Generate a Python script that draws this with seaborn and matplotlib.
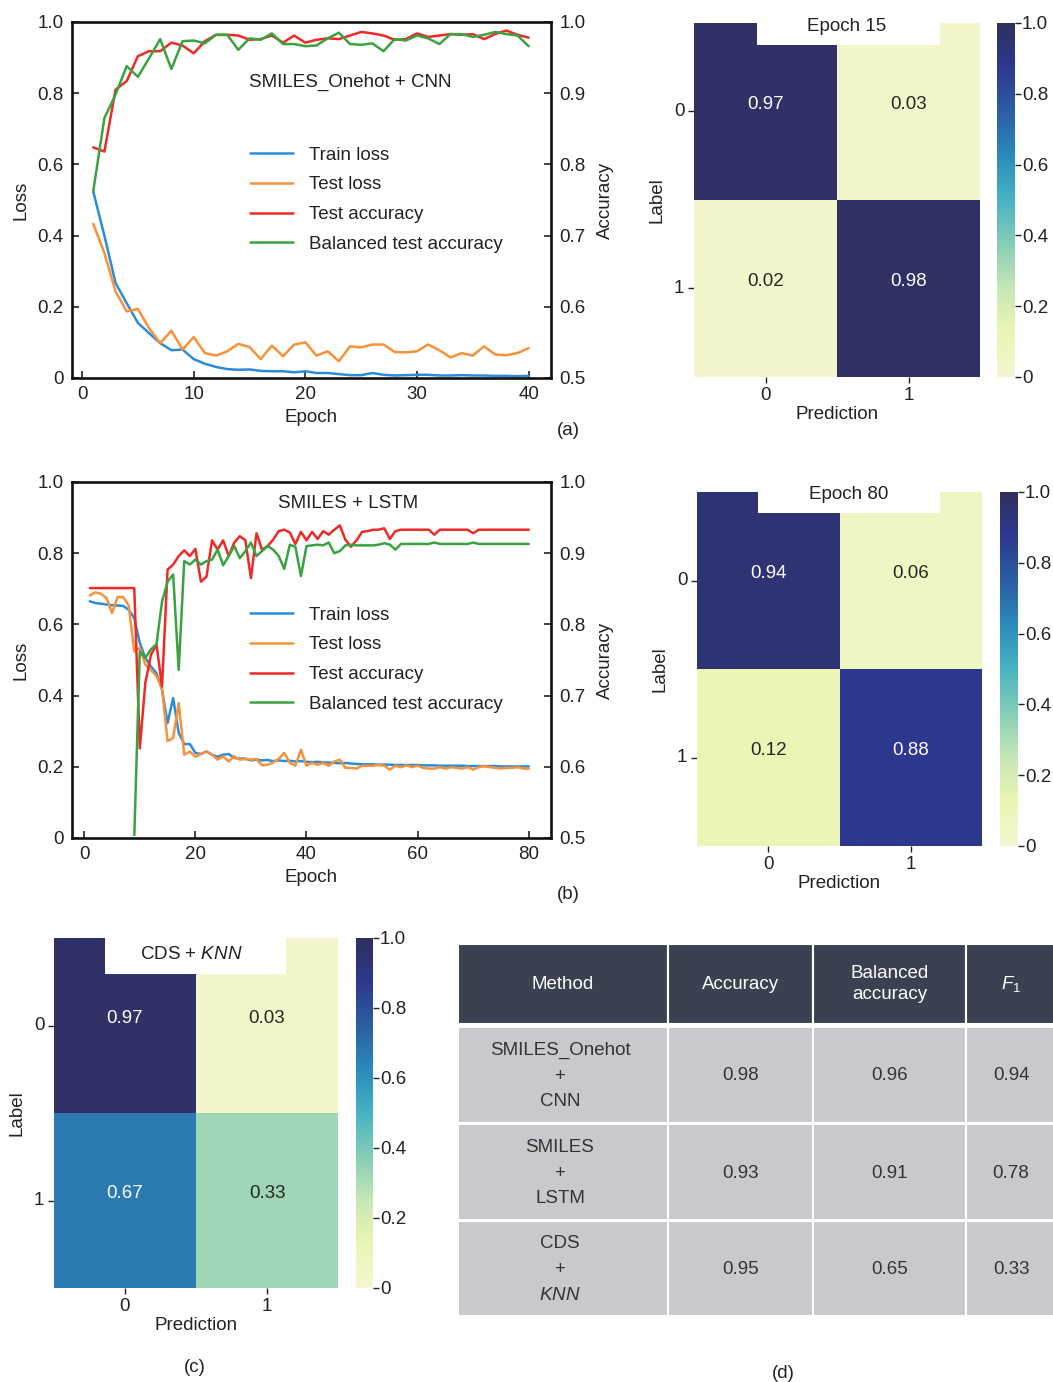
import matplotlib
matplotlib.use("Agg")
import matplotlib.pyplot as plt
import seaborn as sns
from matplotlib.colors import LinearSegmentedColormap
from matplotlib.patches import Rectangle
from matplotlib.ticker import FuncFormatter

# ---- data ----
cnn_epochs = list(range(1, 41))
cnn_train_loss = [0.524, 0.400, 0.267, 0.210, 0.155, 0.126, 0.098, 0.078, 0.080, 0.053,
                  0.040, 0.031, 0.025, 0.023, 0.024, 0.020, 0.019, 0.019, 0.016, 0.019,
                  0.014, 0.014, 0.011, 0.008, 0.008, 0.014, 0.009, 0.007, 0.008, 0.009,
                  0.009, 0.007, 0.007, 0.008, 0.007, 0.007, 0.006, 0.006, 0.005, 0.006]
cnn_test_loss = [0.433, 0.351, 0.243, 0.187, 0.194, 0.140, 0.098, 0.133, 0.080, 0.115,
                 0.070, 0.063, 0.075, 0.096, 0.087, 0.053, 0.091, 0.061, 0.094, 0.100,
                 0.063, 0.075, 0.047, 0.089, 0.086, 0.094, 0.094, 0.073, 0.072, 0.075,
                 0.094, 0.078, 0.058, 0.070, 0.063, 0.089, 0.066, 0.064, 0.070, 0.084]
cnn_test_acc = [0.824, 0.818, 0.905, 0.917, 0.952, 0.959, 0.959, 0.971, 0.967, 0.956,
                0.973, 0.982, 0.982, 0.981, 0.975, 0.976, 0.981, 0.971, 0.981, 0.971,
                0.975, 0.977, 0.976, 0.981, 0.986, 0.984, 0.981, 0.975, 0.976, 0.984,
                0.979, 0.981, 0.983, 0.982, 0.983, 0.976, 0.983, 0.988, 0.982, 0.978]
cnn_bal_acc = [0.762, 0.865, 0.898, 0.938, 0.923, 0.949, 0.976, 0.934, 0.973, 0.974,
               0.970, 0.982, 0.982, 0.961, 0.977, 0.975, 0.984, 0.969, 0.969, 0.966,
               0.967, 0.977, 0.985, 0.969, 0.968, 0.970, 0.959, 0.976, 0.974, 0.981,
               0.977, 0.969, 0.983, 0.983, 0.979, 0.982, 0.986, 0.983, 0.981, 0.966]

lstm_epochs = list(range(1, 81))
lstm_train_loss = [0.665, 0.660, 0.658, 0.656, 0.654, 0.653, 0.652, 0.641, 0.618, 0.548,
                   0.506, 0.482, 0.463, 0.417, 0.323, 0.393, 0.295, 0.264, 0.264, 0.239,
                   0.236, 0.243, 0.234, 0.228, 0.234, 0.236, 0.225, 0.223, 0.223, 0.218,
                   0.220, 0.218, 0.219, 0.216, 0.218, 0.216, 0.217, 0.215, 0.216, 0.214,
                   0.213, 0.214, 0.212, 0.212, 0.211, 0.210, 0.211, 0.209, 0.208, 0.207,
                   0.207, 0.207, 0.206, 0.206, 0.206, 0.205, 0.205, 0.205, 0.205, 0.205,
                   0.204, 0.204, 0.204, 0.203, 0.203, 0.203, 0.203, 0.203, 0.202, 0.202,
                   0.202, 0.202, 0.202, 0.202, 0.201, 0.201, 0.201, 0.201, 0.201, 0.201]
lstm_test_loss = [0.681, 0.690, 0.686, 0.674, 0.632, 0.677, 0.677, 0.653, 0.524, 0.534,
                  0.487, 0.473, 0.454, 0.421, 0.272, 0.281, 0.379, 0.234, 0.243, 0.228,
                  0.236, 0.243, 0.234, 0.220, 0.229, 0.215, 0.229, 0.220, 0.222, 0.220,
                  0.222, 0.204, 0.206, 0.212, 0.222, 0.239, 0.211, 0.203, 0.248, 0.203,
                  0.211, 0.206, 0.211, 0.203, 0.215, 0.220, 0.197, 0.197, 0.195, 0.203,
                  0.203, 0.203, 0.206, 0.203, 0.192, 0.203, 0.199, 0.204, 0.199, 0.203,
                  0.197, 0.195, 0.195, 0.199, 0.195, 0.199, 0.197, 0.195, 0.199, 0.192,
                  0.199, 0.202, 0.199, 0.197, 0.195, 0.197, 0.197, 0.199, 0.195, 0.195]
lstm_test_acc = [0.851, 0.851, 0.851, 0.851, 0.851, 0.851, 0.851, 0.851, 0.851, 0.626,
                 0.718, 0.757, 0.772, 0.713, 0.877, 0.884, 0.896, 0.904, 0.896, 0.906,
                 0.860, 0.867, 0.918, 0.905, 0.918, 0.896, 0.915, 0.924, 0.918, 0.865,
                 0.928, 0.905, 0.910, 0.919, 0.931, 0.933, 0.929, 0.913, 0.930, 0.918,
                 0.930, 0.920, 0.931, 0.926, 0.933, 0.939, 0.919, 0.909, 0.918, 0.930,
                 0.931, 0.933, 0.933, 0.935, 0.920, 0.931, 0.933, 0.933, 0.933, 0.933,
                 0.933, 0.933, 0.926, 0.933, 0.933, 0.933, 0.933, 0.933, 0.933, 0.928,
                 0.933, 0.933, 0.933, 0.933, 0.933, 0.933, 0.933, 0.933, 0.933, 0.933]
lstm_bal_acc = [0.500, 0.500, 0.500, 0.500, 0.500, 0.500, 0.500, 0.500, 0.500, 0.762,
                0.753, 0.765, 0.772, 0.832, 0.860, 0.870, 0.736, 0.889, 0.884, 0.891,
                0.884, 0.889, 0.891, 0.905, 0.883, 0.896, 0.910, 0.893, 0.903, 0.915,
                0.896, 0.903, 0.910, 0.905, 0.896, 0.878, 0.912, 0.909, 0.868, 0.910,
                0.911, 0.912, 0.911, 0.915, 0.900, 0.903, 0.911, 0.912, 0.911, 0.911,
                0.911, 0.911, 0.912, 0.914, 0.912, 0.905, 0.913, 0.913, 0.913, 0.913,
                0.913, 0.913, 0.915, 0.913, 0.913, 0.913, 0.913, 0.913, 0.913, 0.915,
                0.913, 0.913, 0.913, 0.913, 0.913, 0.913, 0.913, 0.913, 0.913, 0.913]

cm_ticks = ["0", "1"]
cm_epoch15 = [[0.97, 0.03], [0.02, 0.98]]
cm_epoch80 = [[0.94, 0.06], [0.12, 0.88]]
cm_knn = [[0.97, 0.03], [0.67, 0.33]]

table_headers = ["Method", "Accuracy", "Balanced\naccuracy", "$F_1$"]
table_methods = ["SMILES_Onehot\n+\nCNN", "SMILES\n+\nLSTM", "CDS\n+\n$\\mathit{KNN}$"]
table_acc = [0.98, 0.93, 0.95]
table_bal_acc = [0.96, 0.91, 0.65]
table_f1 = [0.94, 0.78, 0.33]

# ---- style ----
sns.set_style("ticks")
plt.rcParams["font.family"] = ["Liberation Sans", "DejaVu Sans"]
plt.rcParams["mathtext.fontset"] = "custom"
plt.rcParams["mathtext.rm"] = "Liberation Sans"
plt.rcParams["mathtext.it"] = "Liberation Sans:italic"
plt.rcParams["text.color"] = "#222222"
plt.rcParams["axes.labelcolor"] = "#222222"
plt.rcParams["xtick.color"] = "#222222"
plt.rcParams["ytick.color"] = "#222222"

FS = 13.5
W, H = 1053, 1382
LW = 1.8
BLUE, ORANGE, RED, GREEN = "#2b8cdb", "#f7913a", "#ed2a25", "#3aa241"
cmap = LinearSegmentedColormap.from_list(
    "ylgnbu_soft", ["#f5f6d2", "#ebf5b3", "#c7e7b6", "#86cdb6", "#47b3c2",
                    "#2b8abb", "#2b5ea3", "#2d3890", "#2f2f5c"])

fig = plt.figure(figsize=(W / 100, H / 100), dpi=100)


def px_box(left, top, right, bottom):
    return [left / W, 1 - bottom / H, (right - left) / W, (bottom - top) / H]


def loss_fmt(v, pos):
    return "0" if abs(v) < 1e-9 else f"{v:.1f}"


def plot_curves(rect, epochs, train_loss, test_loss, test_acc, bal_acc, title, title_xy, xlim, xticks):
    ax = fig.add_axes(rect)
    ax2 = ax.twinx()
    sns.lineplot(x=epochs, y=train_loss, ax=ax, color=BLUE, lw=LW, label="Train loss", legend=False)
    sns.lineplot(x=epochs, y=test_loss, ax=ax, color=ORANGE, lw=LW, label="Test loss", legend=False)
    sns.lineplot(x=epochs, y=test_acc, ax=ax2, color=RED, lw=LW, label="Test accuracy", legend=False)
    sns.lineplot(x=epochs, y=bal_acc, ax=ax2, color=GREEN, lw=LW, label="Balanced test accuracy", legend=False)
    # clip accuracy curves just above the bottom frame so a run resting on 0.5 stays hidden
    for ln in ax2.get_lines():
        ln.set_clip_path(Rectangle((0, 0.007), 1, 0.993, transform=ax2.transAxes))
    ax.set_xlim(*xlim)
    ax.set_ylim(0, 1)
    ax2.set_ylim(0.5, 1)
    ax.set_xticks(xticks)
    ax.set_yticks([0, 0.2, 0.4, 0.6, 0.8, 1.0])
    ax2.set_yticks([0.5, 0.6, 0.7, 0.8, 0.9, 1.0])
    ax.yaxis.set_major_formatter(FuncFormatter(loss_fmt))
    ax2.yaxis.set_major_formatter(FuncFormatter(lambda v, p: f"{v:.1f}"))
    for a in (ax, ax2):
        a.tick_params(direction="in", length=5, width=1.2, labelsize=FS, pad=6)
    for sp in ax.spines.values():
        sp.set_visible(False)
    for sp in ax2.spines.values():
        sp.set_linewidth(1.9)
        sp.set_color("#111111")
    ax.set_xlabel("Epoch", fontsize=FS, labelpad=4)
    ax.set_ylabel("Loss", fontsize=FS, labelpad=6)
    ax2.set_ylabel("Accuracy", fontsize=FS, labelpad=8)
    ax.text(title_xy[0], title_xy[1], title, transform=ax.transAxes, ha="center", va="center", fontsize=FS)
    h1, l1 = ax.get_legend_handles_labels()
    h2, l2 = ax2.get_legend_handles_labels()
    ax2.legend(h1 + h2, l1 + l2, loc="upper left", bbox_to_anchor=(0.372, 0.65), frameon=False,
               fontsize=FS, handlelength=2.3, handletextpad=0.85, labelspacing=0.67,
               borderpad=0, borderaxespad=0)
    return ax


def plot_cm(rect, cbar_rect, matrix, title, box_x, box_h, title_xy):
    ax = fig.add_axes(rect)
    cax = fig.add_axes(cbar_rect)
    sns.heatmap(matrix, ax=ax, cbar_ax=cax, cmap=cmap, vmin=0, vmax=1, annot=True, fmt=".2f",
                annot_kws={"size": FS}, xticklabels=cm_ticks, yticklabels=cm_ticks)
    for t in ax.texts:
        x, y = t.get_position()
        t.set_position((x, y - 0.04))
    ax.tick_params(length=4, width=1, labelsize=FS, pad=3)
    ax.set_yticklabels(cm_ticks, rotation=0)
    ax.set_xlabel("Prediction", fontsize=FS, labelpad=2)
    ax.set_ylabel("Label", fontsize=FS, labelpad=6)
    cbar = ax.collections[0].colorbar
    cbar.outline.set_visible(False)
    cbar.set_ticks([0, 0.2, 0.4, 0.6, 0.8, 1.0])
    cbar.ax.yaxis.set_major_formatter(FuncFormatter(loss_fmt))
    cax.tick_params(length=4, width=1, labelsize=FS, pad=1)
    ax.add_patch(Rectangle((box_x[0], 1 - box_h), box_x[1] - box_x[0], box_h, transform=ax.transAxes,
                           facecolor="white", edgecolor="none", zorder=3.5, clip_on=False))
    ax.text(title_xy[0], title_xy[1], title, transform=ax.transAxes, ha="center", va="center",
            fontsize=FS, zorder=4)
    return ax


# (a) and (b) training curves
plot_curves(px_box(72, 22, 551, 378), cnn_epochs, cnn_train_loss, cnn_test_loss, cnn_test_acc, cnn_bal_acc,
            "SMILES_Onehot + CNN", (0.58, 0.83), (-0.9, 42), [0, 10, 20, 30, 40])
plot_curves(px_box(72, 482, 551, 838), lstm_epochs, lstm_train_loss, lstm_test_loss, lstm_test_acc, lstm_bal_acc,
            "SMILES + LSTM", (0.576, 0.94), (-2.2, 84), [0, 20, 40, 60, 80])

# confusion matrices
plot_cm(px_box(694, 23, 980, 377), px_box(997, 23, 1015, 377), cm_epoch15, "Epoch 15",
        (0.221, 0.86), 0.061, (0.534, 0.99))
plot_cm(px_box(697, 492, 982, 846), px_box(1000, 492, 1018, 846), cm_epoch80, "Epoch 80",
        (0.213, 0.853), 0.058, (0.531, 0.994))
plot_cm(px_box(54, 938, 338, 1288), px_box(356, 938, 373, 1288), cm_knn, "CDS + $\\mathit{KNN}$",
        (0.179, 0.818), 0.104, (0.485, 0.952))

# (d) table and panel labels, drawn on a pixel-space overlay
ov = fig.add_axes([0, 0, 1, 1], zorder=-1)
ov.set_xlim(0, W)
ov.set_ylim(H, 0)
ov.axis("off")
col_edges = [458, 668, 813, 966, 1056]
header_rows = (944, 1024)
body_rows = [(1027, 1123), (1124, 1220), (1221, 1316)]
for j in range(4):
    x0, x1 = col_edges[j], col_edges[j + 1]
    ov.add_patch(Rectangle((x0, header_rows[0]), x1 - x0, header_rows[1] - header_rows[0],
                           facecolor="#3a4150", edgecolor="white", lw=1.5))
    ov.text((x0 + x1) / 2, (header_rows[0] + header_rows[1]) / 2, table_headers[j],
            color="white", ha="center", va="center", fontsize=FS, linespacing=1.3)
    for i, (y0, y1) in enumerate(body_rows):
        ov.add_patch(Rectangle((x0, y0), x1 - x0, y1 - y0, facecolor="#c9c8cc", edgecolor="white", lw=1.5))
        if j == 0:
            txt = table_methods[i]
        else:
            txt = f"{[table_acc, table_bal_acc, table_f1][j - 1][i]:.2f}"
        ov.text((x0 + x1) / 2 - (3 if j == 0 else 0), (y0 + y1) / 2 + 1, txt, color="#333333",
                ha="center", va="center", fontsize=FS, linespacing=1.68)

for lab, x, y in [("(a)", 568, 430), ("(b)", 568, 894), ("(c)", 195, 1368), ("(d)", 783, 1373)]:
    ov.text(x, y, lab, ha="center", va="center", fontsize=FS)

fig.savefig("out.png", dpi=100)
